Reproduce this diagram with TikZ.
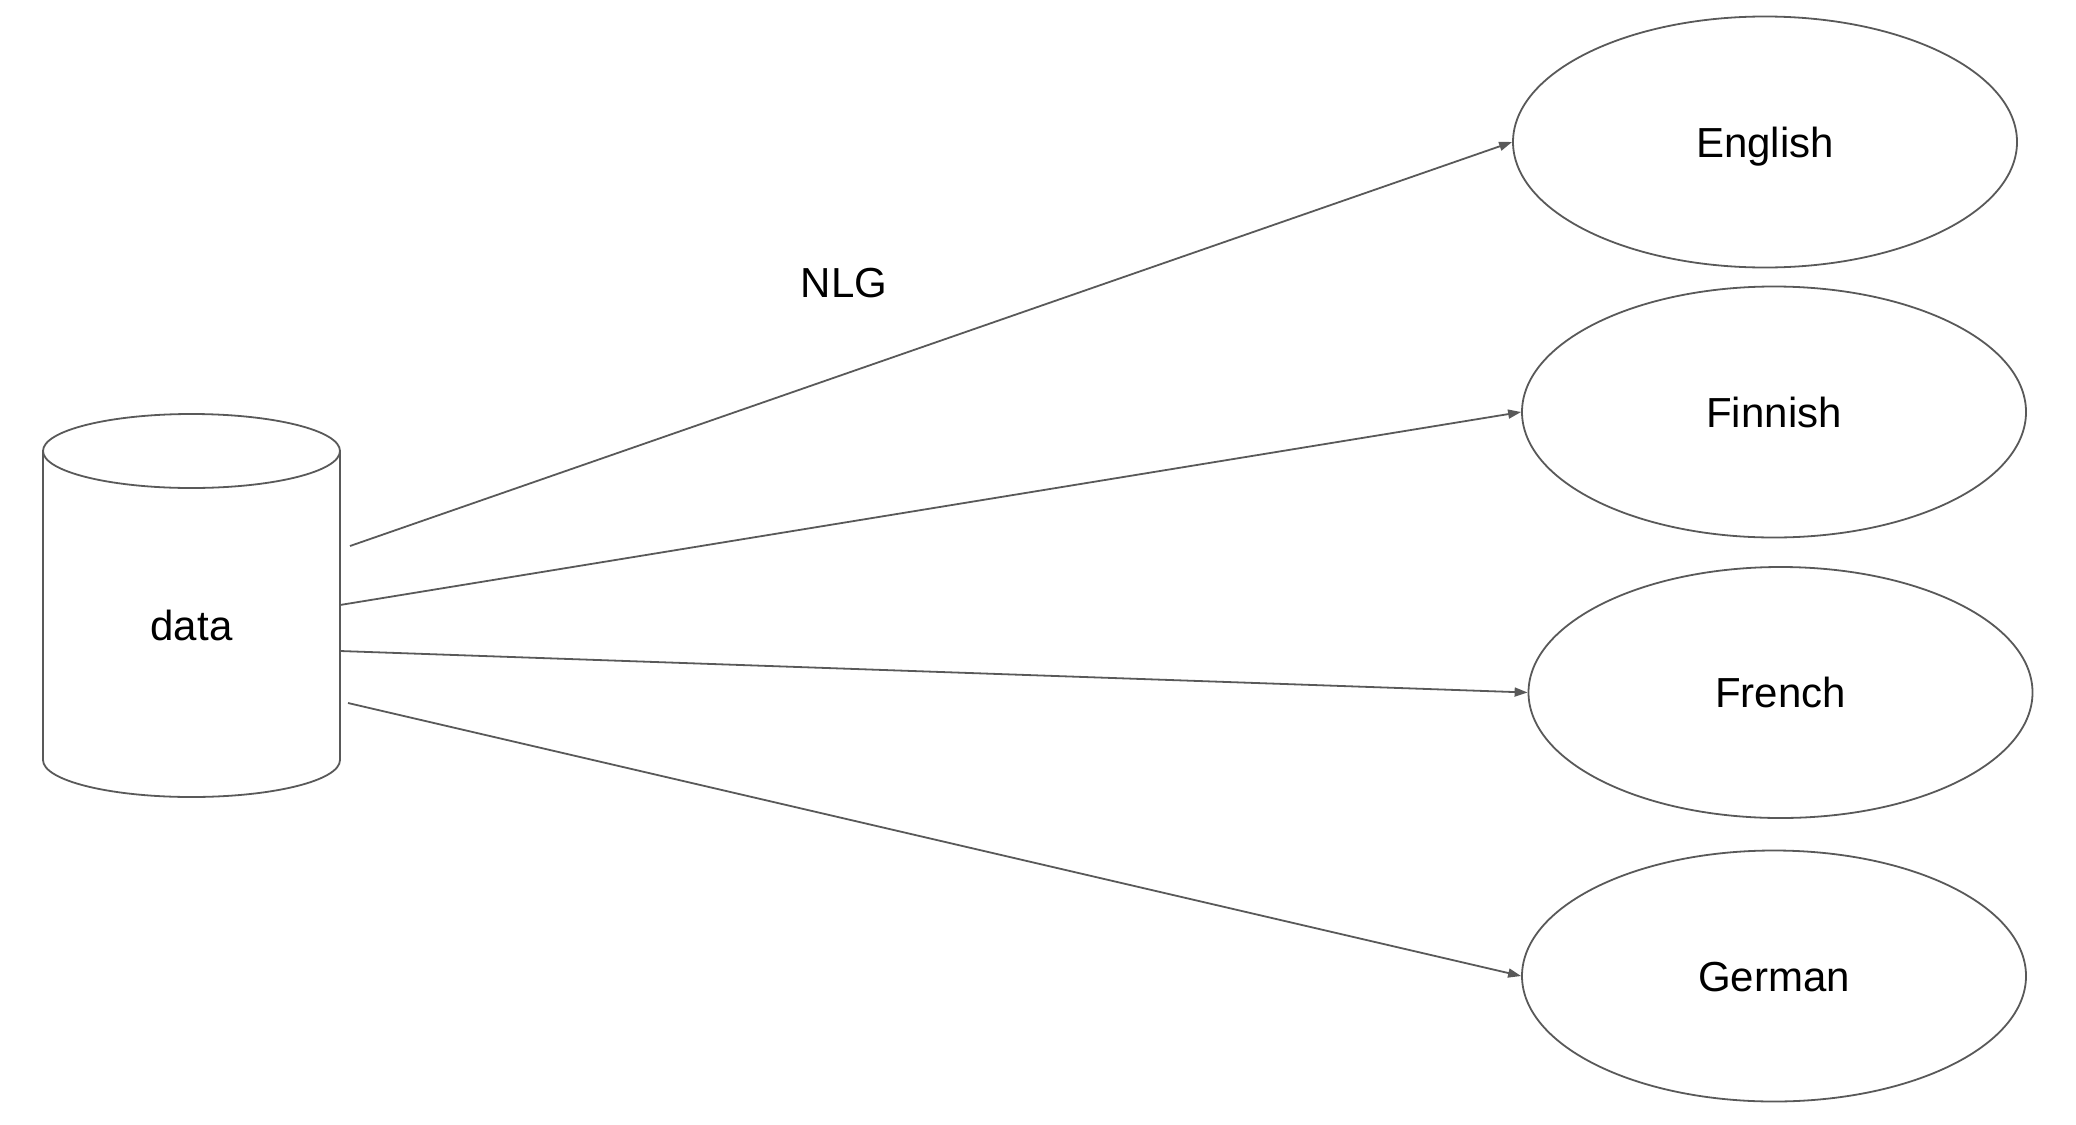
\documentclass[tikz,border=0pt]{standalone}
\usepackage{fontspec}
\setmainfont{Liberation Sans}
\usetikzlibrary{shapes.geometric,arrows.meta}
\definecolor{linegray}{HTML}{595959}
\tikzset{
  outline/.style={draw=linegray, line width=0.9pt},
  lang/.style={ellipse, outline, minimum width=252pt, minimum height=125.5pt, inner sep=0pt},
  lbl/.style={font=\fontsize{21pt}{25pt}\selectfont, text height=15pt, text depth=0pt, inner sep=0pt},
  conn/.style={draw=linegray, line width=0.9pt, -{Triangle[length=6.5pt,width=4.5pt]}}
}
\begin{document}
\begin{tikzpicture}[x=0.5pt,y=-0.5pt]
\useasboundingbox (0,0) rectangle (2076,1124);
% cylinder (data store)
\draw[outline] (43,451) -- (43,760) arc (180:0:148.5 and 37) -- (340,451);
\draw[outline, fill=white] (191.5,451) ellipse [x radius=148.5, y radius=37];
\node[lbl] (data) at (191.5,625) {data};
% targets
\node[lang, lbl] (eng) at (1765,142) {English};
\node[lang, lbl] (fin) at (1774,412) {Finnish};
\node[lang, lbl] (fre) at (1780.5,692.5) {French};
\node[lang, lbl] (ger) at (1774,976) {German};
\node[lbl] (nlg) at (844,282.5) {NLG};
% connector starts
\coordinate (s1) at (350,546);
\coordinate (s2) at (340,605);
\coordinate (s3) at (340,651);
\coordinate (s4) at (348,703);
\draw[conn] (s1) -- (eng.west);
\draw[conn] (s2) -- (fin.west);
\draw[conn] (s3) -- (fre.west);
\draw[conn] (s4) -- (ger.west);
\end{tikzpicture}
\end{document}
